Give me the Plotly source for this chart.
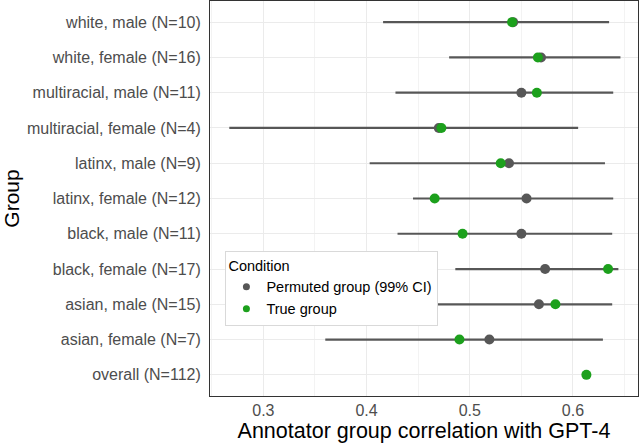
import plotly.graph_objects as go

groups = ["white, male (N=10)", "white, female (N=16)", "multiracial, male (N=11)",
          "multiracial, female (N=4)", "latinx, male (N=9)", "latinx, female (N=12)",
          "black, male (N=11)", "black, female (N=17)", "asian, male (N=15)",
          "asian, female (N=7)", "overall (N=112)"]
perm_mean = [0.542, 0.569, 0.550, 0.470, 0.538, 0.555, 0.550, 0.573, 0.567, 0.519, None]
perm_low = [0.416, 0.480, 0.428, 0.267, 0.403, 0.445, 0.430, 0.486, 0.463, 0.360, None]
perm_high = [0.635, 0.646, 0.639, 0.605, 0.631, 0.639, 0.638, 0.644, 0.638, 0.629, None]
true_val = [0.541, 0.566, 0.565, 0.4725, 0.530, 0.466, 0.493, 0.634, 0.583, 0.490, 0.613]
x_ticks = [0.3, 0.4, 0.5, 0.6]
legend_names = ["Permuted group (99% CI)", "True group"]

GRAY = "#575757"
GREEN = "#1ca01c"

plus = [(h - m) if m is not None else None for m, h in zip(perm_mean, perm_high)]
minus = [(m - l) if m is not None else None for m, l in zip(perm_mean, perm_low)]

fig = go.Figure()
fig.add_trace(go.Scatter(
    x=perm_mean, y=groups, mode="markers", name=legend_names[0], showlegend=False,
    marker=dict(color=GRAY, size=10),
    error_x=dict(type="data", symmetric=False, array=plus, arrayminus=minus,
                 color=GRAY, thickness=2.2, width=0),
))
fig.add_trace(go.Scatter(
    x=true_val, y=groups, mode="markers", name=legend_names[1], showlegend=False,
    marker=dict(color=GREEN, size=10),
))
# legend-only entries with smaller keys
for nm, col in zip(legend_names, [GRAY, GREEN]):
    fig.add_trace(go.Scatter(x=[None], y=[None], mode="markers", name=nm,
                             marker=dict(color=col, size=7)))

fig.update_layout(
    width=640, height=443,
    margin=dict(l=210, r=2, t=1, b=47, autoexpand=False),
    paper_bgcolor="white", plot_bgcolor="white",
    font=dict(family="Liberation Sans, Arial, sans-serif", color="#4d4d4d", size=16),
    legend=dict(
        title=dict(text="Condition", font=dict(color="black", size=14.5)),
        x=0.036, y=0.367, xanchor="left", yanchor="top",
        bordercolor="#d9d9d9", borderwidth=1, bgcolor="white",
        font=dict(color="black", size=14.5), itemsizing="trace",
        tracegroupgap=0, itemwidth=30,
    ),
    showlegend=True,
)
fig.update_xaxes(
    range=[0.2483, 0.663], tickvals=x_ticks, ticktext=["0.3", "0.4", "0.5", "0.6"],
    showgrid=True, gridcolor="#ebebeb", gridwidth=1,
    minor=dict(dtick=0.05, tick0=0.25, showgrid=True, gridcolor="#f3f3f3", gridwidth=0.6),
    showline=True, linecolor="#333333", linewidth=1, mirror=True,
    ticks="", tickfont=dict(size=16, color="#4d4d4d"), automargin=False,
    title=dict(text="Annotator group correlation with GPT-4", font=dict(size=21.5, color="black"), standoff=2),
    zeroline=False,
)
fig.update_yaxes(
    categoryorder="array", categoryarray=groups[::-1],
    range=[-0.6, 10.6], automargin=False,
    showgrid=True, gridcolor="#ebebeb", gridwidth=1,
    showline=True, linecolor="#333333", linewidth=1, mirror=True,
    ticks="", ticklabelstandoff=5, tickfont=dict(size=16, color="#4d4d4d"),
    title=dict(text="Group", font=dict(size=21, color="black"), standoff=3),
)

fig.write_html("out.html", config={"displayModeBar": False},
               post_script="document.body.style.margin='0px';")
